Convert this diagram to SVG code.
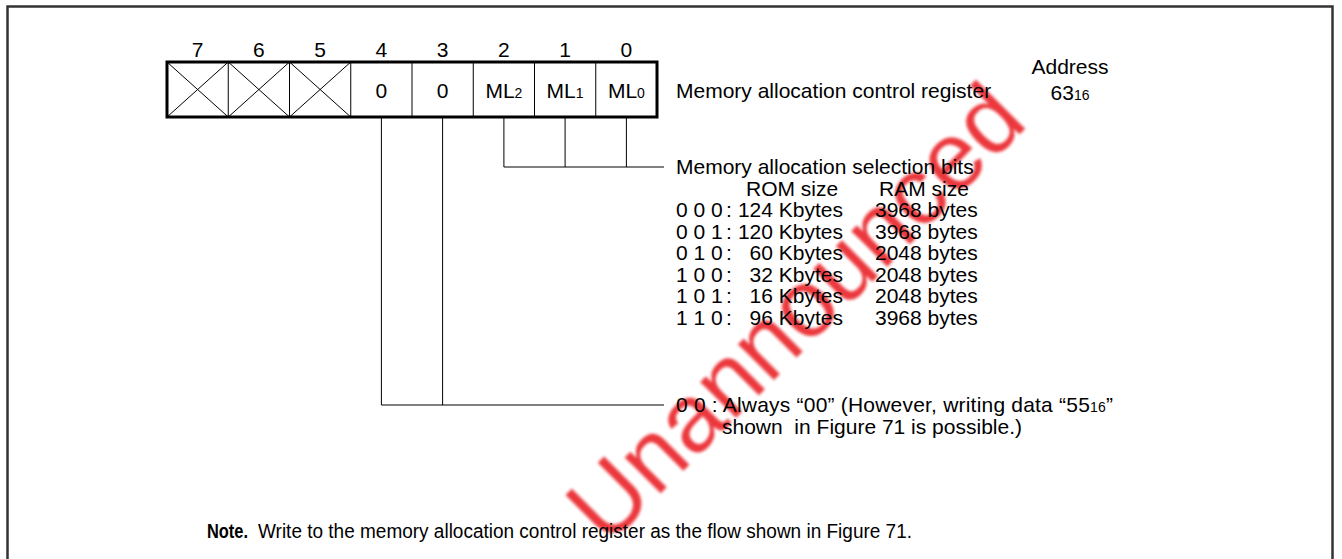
<svg xmlns="http://www.w3.org/2000/svg" width="1342" height="559" viewBox="0 0 1342 559">
<defs>
<filter id="soft" x="-10%" y="-10%" width="120%" height="120%"><feGaussianBlur stdDeviation="1.6"/></filter>
</defs>
<style>
text{font-family:"Liberation Sans",Arial,sans-serif;font-size:21px;fill:#000}
.sub{font-size:14px}
.num{text-anchor:middle}
.cell{fill:#fff;stroke:#000;stroke-width:2}
.x{stroke:#000;stroke-width:1;fill:none}
.ln{stroke:#000;stroke-width:1;fill:none}
.end{text-anchor:end}
.wm{font-size:96px;fill:#e8121c}
</style>
<rect x="7.5" y="6.5" width="1325" height="620" fill="#fff" stroke="#333" stroke-width="2.5"/>
<g id="watermark" opacity="0.85" filter="url(#soft)">
<text class="wm" transform="translate(607,547) rotate(-45)">Unannounced</text>
</g>
<g id="bitnumbers">
<text class="num" x="197.6" y="57">7</text>
<text class="num" x="258.9" y="57">6</text>
<text class="num" x="320.1" y="57">5</text>
<text class="num" x="381.4" y="57">4</text>
<text class="num" x="442.6" y="57">3</text>
<text class="num" x="503.9" y="57">2</text>
<text class="num" x="565.1" y="57">1</text>
<text class="num" x="626.4" y="57">0</text>
</g>
<g id="register">
<rect class="cell" x="167" y="62" width="490" height="55"/>
<path class="ln" d="M228.25 62V117M289.5 62V117M350.75 62V117M412 62V117M473.25 62V117M534.5 62V117M595.75 62V117" stroke-width="2"/>
<path class="x" d="M167 62L228.25 117M228.25 62L167 117M228.25 62L289.5 117M289.5 62L228.25 117M289.5 62L350.75 117M350.75 62L289.5 117"/>
<rect x="167" y="62" width="490" height="55" fill="none" stroke="#000" stroke-width="3"/>
<text class="num" x="381.4" y="98">0</text>
<text class="num" x="442.6" y="98">0</text>
<text class="num" x="503.9" y="98">ML<tspan class="sub">2</tspan></text>
<text class="num" x="565.1" y="98">ML<tspan class="sub">1</tspan></text>
<text class="num" x="626.4" y="98">ML<tspan class="sub">0</tspan></text>
</g>
<g id="register-label">
<text x="676" y="98">Memory allocation control register</text>
</g>
<g id="address">
<text class="num" x="1070" y="74">Address</text>
<text class="num" x="1070" y="100">63<tspan class="sub">16</tspan></text>
</g>
<g id="connectors">
<path class="ln" d="M503.9 117V167M565.1 117V167M626.4 117V167M503.9 167H664"/>
<path class="ln" d="M381.4 117V405M442.6 117V405M381.4 405H664"/>
</g>
<g id="selection-bits">
<text x="676" y="174">Memory allocation selection bits</text>
<text x="746" y="196">ROM size</text>
<text x="879" y="196">RAM size</text>
<text x="676" y="217">0 0 0</text><text x="726" y="217">:</text><text class="end" x="843" y="217">124 Kbytes</text><text x="875" y="217">3968 bytes</text>
<text x="676" y="239">0 0 1</text><text x="726" y="239">:</text><text class="end" x="843" y="239">120 Kbytes</text><text x="875" y="239">3968 bytes</text>
<text x="676" y="260">0 1 0</text><text x="726" y="260">:</text><text class="end" x="843" y="260">60 Kbytes</text><text x="875" y="260">2048 bytes</text>
<text x="676" y="282">1 0 0</text><text x="726" y="282">:</text><text class="end" x="843" y="282">32 Kbytes</text><text x="875" y="282">2048 bytes</text>
<text x="676" y="303">1 0 1</text><text x="726" y="303">:</text><text class="end" x="843" y="303">16 Kbytes</text><text x="875" y="303">2048 bytes</text>
<text x="676" y="325">1 1 0</text><text x="726" y="325">:</text><text class="end" x="843" y="325">96 Kbytes</text><text x="875" y="325">3968 bytes</text>
</g>
<g id="bits-4-3">
<text x="676" y="412" textLength="437" lengthAdjust="spacing">0 0 : Always “00” (However, writing data “55<tspan class="sub">16</tspan>”</text>
<text x="722" y="434">shown&#160; in Figure 71 is possible.)</text>
</g>
<g id="note">
<text x="207" y="538" font-weight="bold" style="font-size:19.5px" textLength="41" lengthAdjust="spacingAndGlyphs">Note.</text>
<text x="258" y="538" style="font-size:19.5px" textLength="654" lengthAdjust="spacingAndGlyphs">Write to the memory allocation control register as the flow shown in Figure 71.</text>
</g>
</svg>
